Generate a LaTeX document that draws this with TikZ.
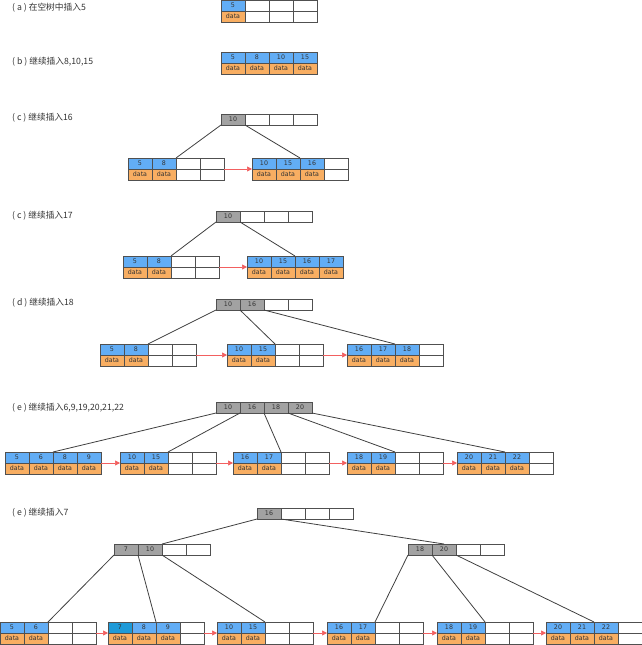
\documentclass[tikz,border=0pt]{standalone}
\usepackage{fontspec}
\usetikzlibrary{arrows.meta}
\newfontfamily\cjkfont{Noto Sans CJK SC}
\newfontfamily\cellfont{DejaVu Sans}
\definecolor{keyblue}{HTML}{62ADF5}
\definecolor{newblue}{HTML}{1E9AD8}
\definecolor{dataorange}{HTML}{F8AE62}
\definecolor{idxgray}{HTML}{A2A2A2}
\definecolor{cellline}{HTML}{505050}
\definecolor{nextred}{HTML}{F26060}
\definecolor{labelgray}{HTML}{333333}

% leaf block: name, top-left corner, keys
\newcommand{\bpleaf}[3]{%
  \begin{scope}[shift={(#2)}]
    \foreach \i in {1,...,4} {
      \node[emptycell] (#1-\i) at (\i*24-12, 5.5) {};
      \node[emptycell] (#1-d\i) at (\i*24-12, 16.5) {};
    }
    \foreach \k [count=\i] in {#3} {
      \node[keycell] (#1-\i) at (\i*24-12, 5.5) {\k};
      \node[datacell] (#1-d\i) at (\i*24-12, 16.5) {data};
    }
  \end{scope}
}
% index block: name, top-left corner, keys
\newcommand{\bpindex}[3]{%
  \begin{scope}[shift={(#2)}]
    \foreach \i in {1,...,4}
      \node[emptycell] (#1-\i) at (\i*24-12, 5.5) {};
    \foreach \k [count=\i] in {#3}
      \node[idxcell] (#1-\i) at (\i*24-12, 5.5) {\k};
  \end{scope}
}

\begin{document}
\begin{tikzpicture}[x=1pt, y=-1pt,
    emptycell/.style = {draw=cellline, fill=white, line width=0.8pt, minimum width=24pt,
      minimum height=11pt, inner sep=0pt, outer sep=0pt,
      font=\cellfont\fontsize{6.3}{7}\selectfont, text=black!80},
    keycell/.style = {emptycell, fill=keyblue},
    datacell/.style = {emptycell, fill=dataorange},
    idxcell/.style = {emptycell, fill=idxgray},
    steplabel/.style = {anchor=west, inner sep=0pt, text=labelgray,
      font=\cjkfont\fontsize{8.7}{10}\selectfont},
    treeedge/.style = {draw=black!75, line width=0.8pt},
    nextptr/.style = {draw=nextred, line width=0.7pt, -{Triangle[length=5pt, width=5pt]}}]
    \useasboundingbox (0,0) rectangle (642,645);

    % (a)
    \node[steplabel] (la) at (12,8) {( a ) 在空树中插入5};
    \bpleaf{a1}{221,0}{5}

    % (b)
    \node[steplabel] (lb) at (12,62) {( b ) 继续插入8,10,15};
    \bpleaf{b1}{221,52}{5,8,10,15}

    % (c) insert 16
    \node[steplabel] (lc) at (12,118) {( c ) 继续插入16};
    \bpindex{c0}{221,114}{10}
    \bpleaf{c1}{128,158}{5,8}
    \bpleaf{c2}{252,158}{10,15,16}
    \draw[treeedge] (c0-1.south west) -- (c1-2.north east);
    \draw[treeedge] (c0-1.south east) -- (c2-2.north east);
    \draw[nextptr] (c1-4.south east) -- (c2-1.south west);

    % (c) insert 17
    \node[steplabel] (lcc) at (12,216) {( c ) 继续插入17};
    \bpindex{cc0}{216,211}{10}
    \bpleaf{cc1}{123,256}{5,8}
    \bpleaf{cc2}{247,256}{10,15,16,17}
    \draw[treeedge] (cc0-1.south west) -- (cc1-2.north east);
    \draw[treeedge] (cc0-1.south east) -- (cc2-2.north east);
    \draw[nextptr] (cc1-4.south east) -- (cc2-1.south west);

    % (d)
    \node[steplabel] (ld) at (12,303) {( d ) 继续插入18};
    \bpindex{d0}{216,299}{10,16}
    \bpleaf{d1}{100,344}{5,8}
    \bpleaf{d2}{227,344}{10,15}
    \bpleaf{d3}{347,344}{16,17,18}
    \draw[treeedge] (d0-1.south west) -- (d1-2.north east);
    \draw[treeedge] (d0-1.south east) -- (d2-2.north east);
    \draw[treeedge] (d0-2.south east) -- (d3-2.north east);
    \draw[nextptr] (d1-4.south east) -- (d2-1.south west);
    \draw[nextptr] (d2-4.south east) -- (d3-1.south west);

    % (e) insert 6,9,19,20,21,22
    \node[steplabel] (le) at (12,408) {( e ) 继续插入6,9,19,20,21,22};
    \bpindex{e0}{216,402}{10,16,18,20}
    \bpleaf{e1}{5,452}{5,6,8,9}
    \bpleaf{e2}{120,452}{10,15}
    \bpleaf{e3}{233,452}{16,17}
    \bpleaf{e4}{347,452}{18,19}
    \bpleaf{e5}{457,452}{20,21,22}
    \draw[treeedge] (e0-1.south west) -- (e1-2.north east);
    \draw[treeedge] (e0-1.south east) -- (e2-2.north east);
    \draw[treeedge] (e0-2.south east) -- (e3-2.north east);
    \draw[treeedge] (e0-3.south east) -- (e4-2.north east);
    \draw[treeedge] (e0-4.south east) -- (e5-2.north east);
    \foreach \a/\b in {e1/e2, e2/e3, e3/e4, e4/e5}
      \draw[nextptr] (\a-4.south east) -- (\b-1.south west);

    % (e) insert 7
    \node[steplabel] (lee) at (12,513) {( e ) 继续插入7};
    \bpindex{ee0}{257,508}{16}
    \bpindex{eeL}{114,544}{7,10}
    \bpindex{eeR}{408,544}{18,20}
    \bpleaf{ee1}{0,622}{5,6}
    \bpleaf{ee2}{108,622}{7,8,9}
    \node[keycell, fill=newblue] (ee2-1) at (ee2-1.center) {7};
    \bpleaf{ee3}{217,622}{10,15}
    \bpleaf{ee4}{327,622}{16,17}
    \bpleaf{ee5}{437,622}{18,19}
    \bpleaf{ee6}{546,622}{20,21,22}
    \draw[treeedge] (ee0-1.south west) -- (eeL-2.north east);
    \draw[treeedge] (ee0-1.south east) -- (eeR-2.north);
    \draw[treeedge] (eeL-1.south west) -- (ee1-2.north east);
    \draw[treeedge] (eeL-1.south east) -- (ee2-2.north east);
    \draw[treeedge] (eeL-2.south east) -- (ee3-2.north east);
    \draw[treeedge] (eeR-1.south west) -- (ee4-2.north east);
    \draw[treeedge] (eeR-1.south east) -- (ee5-2.north east);
    \draw[treeedge] (eeR-2.south east) -- (ee6-2.north east);
    \foreach \a/\b in {ee1/ee2, ee2/ee3, ee3/ee4, ee4/ee5, ee5/ee6}
      \draw[nextptr] (\a-4.south east) -- (\b-1.south west);
\end{tikzpicture}
\end{document}
